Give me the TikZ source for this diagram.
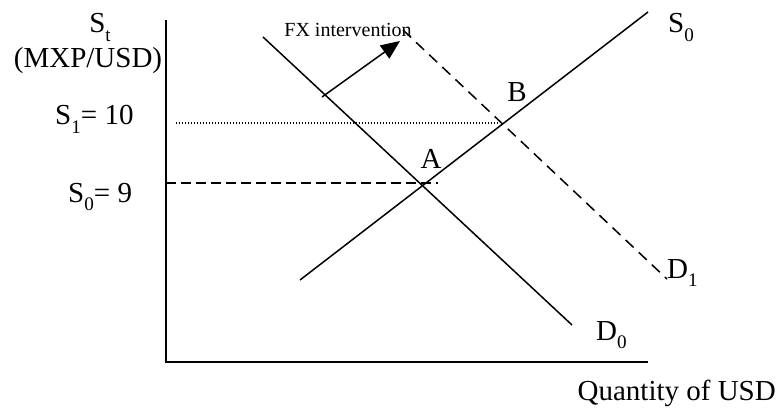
\documentclass[tikz,border=0pt]{standalone}
\usepackage{fontspec}
\setmainfont{Liberation Serif}
\usetikzlibrary{arrows.meta}
\newcommand{\lowsub}[1]{\raisebox{-0.28em}{\scalebox{0.66}{#1}}}
\begin{document}
\begin{tikzpicture}[x=1pt,y=-1pt,
  lbl/.style={inner sep=0pt,anchor=base,font=\fontsize{29}{32}\selectfont},
  curve/.style={line width=1.5pt},
  axis/.style={line width=1.6pt},
  dashcurve/.style={line width=1.5pt,dash pattern=on 11pt off 7pt},
  dashlevel/.style={line width=1.4pt,dash pattern=on 10pt off 5pt},
  dotlevel/.style={line width=1.1pt,dash pattern=on 1pt off 2pt}]
\useasboundingbox (0,0) rectangle (778,414);
% axes
\coordinate (ytop) at (166,20);
\coordinate (orig) at (166,362);
\coordinate (xend) at (648,362);
\draw[axis] (ytop) -- (orig) -- (xend);
% curves
\coordinate (s0a) at (300,280);
\coordinate (s0b) at (648,12);
\coordinate (d0a) at (263,37);
\coordinate (d0b) at (572,325);
\coordinate (d1a) at (403,30);
\coordinate (d1b) at (667,279);
\draw[curve] (s0a) -- (s0b);
\draw[curve] (d0a) -- (d0b);
\draw[dashcurve] (d1a) -- (d1b);
% levels
\coordinate (l1a) at (176,123);
\coordinate (l1b) at (500,123);
\coordinate (l0a) at (166,183);
\coordinate (l0b) at (438,183);
\draw[dotlevel] (l1a) -- (l1b);
\draw[dashlevel] (l0a) -- (l0b);
% intervention arrow
\coordinate (arA) at (322,97);
\coordinate (arB) at (400,41);
\draw[line width=1.5pt,-{Triangle[length=19pt,width=16pt]}] (arA) -- (arB);
\node[inner sep=0pt,anchor=base,font=\fontsize{20}{22}\selectfont] (fx) at (348,37) {FX intervention};
% labels
\node[lbl] (st) at (100,33) {S\lowsub{t}};
\node[lbl] (unit) at (88,68) {(MXP/USD)};
\node[lbl,anchor=base west] (s1) at (55,125) {S\lowsub{1}= 10};
\node[lbl,anchor=base west] (s0) at (68,202) {S\lowsub{0}= 9};
\node[lbl] (A) at (431,168) {A};
\node[lbl] (B) at (517,102) {B};
\node[lbl,anchor=base west] (s0lab) at (668,33) {S\lowsub{0}};
\node[lbl,anchor=base west] (d1lab) at (667,278) {D\lowsub{1}};
\node[lbl,anchor=base west] (d0lab) at (596,340) {D\lowsub{0}};
\node[lbl,anchor=base east] (qty) at (776,400) {Quantity of USD};
\end{tikzpicture}
\end{document}
